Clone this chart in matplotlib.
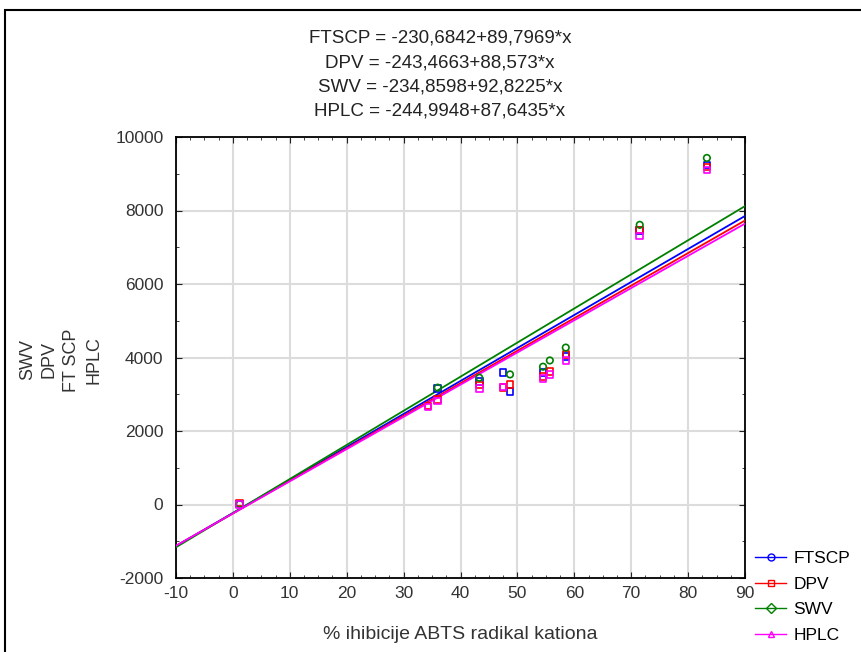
import matplotlib.pyplot as plt
import numpy as np
from matplotlib.patches import Rectangle

plt.rcParams['font.family'] = ['Liberation Sans', 'DejaVu Sans']
plt.rcParams['axes.unicode_minus'] = False

# data
x_ftscp = [1.2, 36.0, 43.3, 47.5, 48.7, 54.5, 58.5, 71.5, 83.3]
y_ftscp = [20, 3150, 3350, 3590, 3080, 3590, 4030, 7450, 9240]
x_dpv = [1.2, 34.3, 36.0, 43.3, 47.5, 48.7, 54.5, 55.7, 58.5, 71.5, 83.3]
y_dpv = [40, 2680, 2860, 3250, 3180, 3260, 3480, 3620, 4080, 7475, 9190]
x_swv = [1.2, 36.0, 43.3, 48.7, 54.5, 55.7, 58.5, 71.5, 83.3]
y_swv = [10, 3180, 3450, 3540, 3750, 3920, 4270, 7610, 9430]
x_hplc = [1.2, 34.3, 36.0, 43.3, 47.5, 54.5, 55.7, 58.5, 71.5, 83.3]
y_hplc = [0, 2650, 2820, 3150, 3200, 3430, 3540, 3920, 7300, 9100]

series = ['FTSCP', 'DPV', 'SWV', 'HPLC']
intercepts = [-230.6842, -243.4663, -234.8598, -244.9948]
slopes = [89.7969, 88.573, 92.8225, 87.6435]
colors = ['#0000ff', '#ff0000', '#008000', '#ff00ff']
markers = ['s', 's', 'o', 's']
legend_markers = ['o', 's', 'D', '^']
eq_text = ['FTSCP = -230,6842+89,7969*x', 'DPV = -243,4663+88,573*x',
           'SWV = -234,8598+92,8225*x', 'HPLC = -244,9948+87,6435*x']

fig = plt.figure(figsize=(8.61, 6.52), dpi=100)
ax = fig.add_axes([176/861, 1-578/652, (745-176)/861, (578-137)/652])

xs = [x_ftscp, x_dpv, x_swv, x_hplc]
ys = [y_ftscp, y_dpv, y_swv, y_hplc]
xline = np.linspace(-10, 90, 50)
handles = []
for i in range(4):
    ax.plot(xline, intercepts[i] + slopes[i]*xline, color=colors[i], lw=1.3, zorder=3)
    ax.scatter(xs[i], ys[i], marker=markers[i], s=22, facecolors='none',
               edgecolors=colors[i], linewidths=1.2, zorder=4)
    h, = ax.plot([], [], color=colors[i], lw=1, marker=legend_markers[i], ms=5,
                 mfc='none', mec=colors[i], label=series[i])
    handles.append(h)

ax.set_xlim(-10, 90)
ax.set_ylim(-2000, 10000)
ax.set_xticks(np.arange(-10, 91, 10))
ax.set_yticks(np.arange(-2000, 10001, 2000))
ax.set_xticks(np.arange(-10, 90.1, 2.5), minor=True)
ax.set_yticks(np.arange(-2000, 10001, 1000), minor=True)
ax.tick_params(which='both', direction='in', top=True, right=True, labelsize=12.5,
               colors='#222222', labelcolor='#333333')
ax.tick_params(which='major', length=4)
ax.tick_params(which='minor', length=2.5)
ax.tick_params(axis='y', pad=9)
ax.tick_params(axis='x', pad=6)
ax.grid(True, which='major', color='#dcdcdc', lw=1.5, zorder=0)
ax.set_axisbelow(True)
for s in ax.spines.values():
    s.set_linewidth(1.3)

ax.set_xlabel('% ihibicije ABTS radikal kationa', fontsize=14, color='#333333', labelpad=18)

# stacked y labels
for lbl, xp in zip(['SWV', 'DPV', 'FTSCP', 'HPLC'], [28, 49, 71, 94]):
    fig.text(xp/861, 1-360/652, lbl.replace('FTSCP', 'FT SCP'), rotation=90,
             fontsize=13, color='#333333', ha='center', va='center')

for k, t in enumerate(eq_text):
    fig.text(440/861, 1-(38+24.5*k)/652, t, fontsize=13.5, color='#222222',
             ha='center', va='center')

ax.legend(handles=handles, loc='upper left', bbox_to_anchor=(748/861, 1-544/652),
          bbox_transform=fig.transFigure, frameon=False, fontsize=12.5,
          handlelength=1.8, handletextpad=0.4, labelspacing=0.6, borderaxespad=0)

fig.patches.append(Rectangle((5/861, -0.1), 1.2, 1-10/652+0.1, transform=fig.transFigure,
                             fill=False, edgecolor='black', lw=1.5))

fig.savefig('out.png', dpi=100)
